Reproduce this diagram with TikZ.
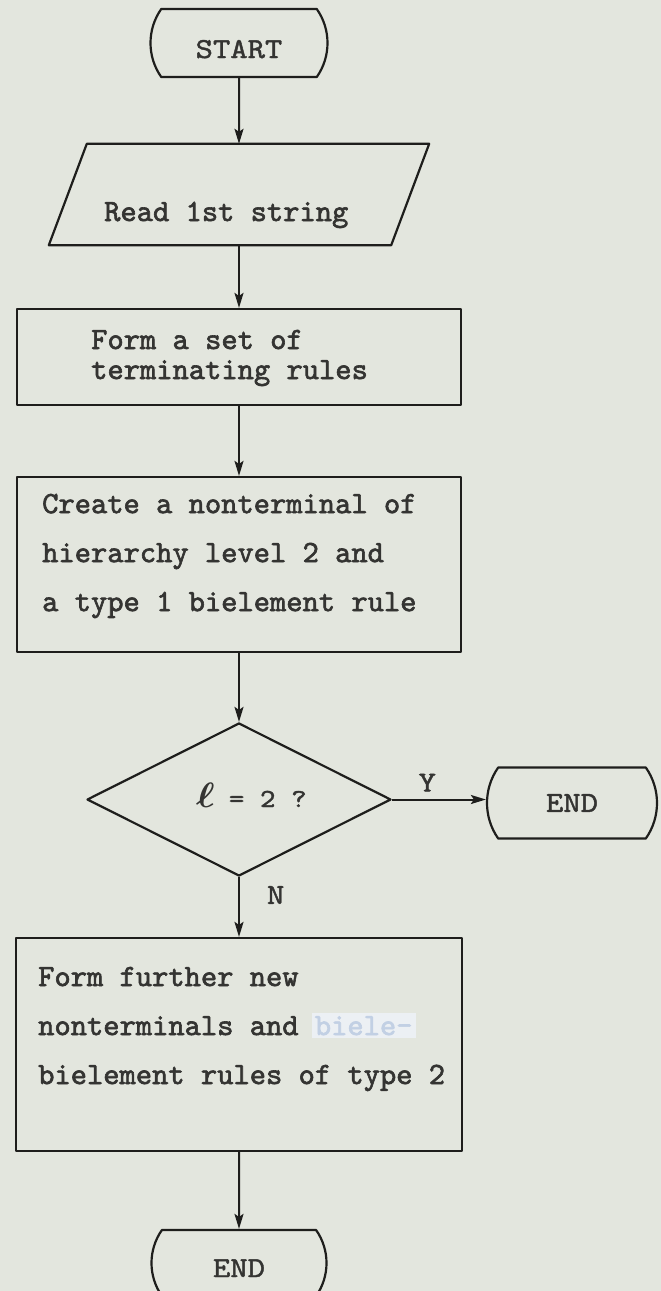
\documentclass[tikz,border=0pt]{standalone}
\usepackage{fontspec}
\usetikzlibrary{shapes.geometric,shapes.misc,arrows.meta}

% typewriter faces: body text and the wider capitals of the labels
\newfontfamily\typefont{lmmono10-regular.otf}[FakeBold=2]
\newfontfamily\capsfont{lmmono10-regular.otf}[FakeStretch=1.14, FakeBold=1.5]

\definecolor{paper}{RGB}{227,230,222}
\definecolor{ink}{RGB}{30,30,28}
\definecolor{typeink}{RGB}{52,52,50}
\definecolor{fluid}{RGB}{236,240,244}
\definecolor{ghost}{RGB}{194,208,228}

\tikzset{
  outline/.style={draw=ink, line width=2.2pt, line join=round},
  term/.style={outline, rounded rectangle, rounded rectangle arc length=70, inner sep=0pt},
  procbox/.style={outline, rectangle, inner sep=0pt},
  frame/.style={rectangle, inner sep=0pt},
  decision/.style={outline, diamond, inner sep=0pt},
  flow/.style={draw=ink, line width=2pt, -{Stealth[length=15pt,width=9pt,inset=3pt]}},
  capstext/.style={text=typeink, inner sep=0pt, font=\capsfont\fontsize{29}{29}\selectfont},
  single/.style={text=typeink, inner sep=0pt, align=left, font=\typefont\fontsize{31}{30}\selectfont},
  spaced/.style={text=typeink, inner sep=0pt, align=left, font=\typefont\fontsize{31}{49}\selectfont},
}

\begin{document}
\begin{tikzpicture}[x=1pt, y=-1pt]
\useasboundingbox (0,0) rectangle (661,1291);
\fill[paper] (0,0) rectangle (661,1291);

% terminal: start
\node[term, capstext, minimum width=177pt, minimum height=68pt,
      text height=30pt, text depth=0pt] (start) at (239,43) {START};

% input: parallelogram drawn round an invisible frame
\node[frame, minimum width=342pt, minimum height=101pt] (read) at (239,194.5) {};
\draw[outline] ([xshift=-19pt]read.south west) -- ([xshift=19pt]read.north west)
  -- ([xshift=19pt]read.north east) -- ([xshift=-19pt]read.south east) -- cycle;
\node[single, anchor=base west] (readtext) at (104,221) {Read 1st string};

% process boxes
\node[procbox, minimum width=444pt, minimum height=96pt] (terms) at (239,357) {};
\node[single, anchor=west] (termstext) at (91,358) {Form a set of\\terminating rules};

\node[procbox, minimum width=444pt, minimum height=175pt] (create) at (239,564.5) {};
\node[spaced, anchor=west] (createtext) at (42,556)
  {Create a nonterminal of\\hierarchy level 2 and\\a type 1 bielement rule};

% decision: a large script ell followed by the typed test
\node[decision, minimum width=304pt, minimum height=153pt] (test) at (239,799.5) {};
\node[inner sep=0pt, text=typeink, anchor=base west] (testtext) at (196,807)
  {\scalebox{1.9}[1.7]{\fontsize{20}{20}\selectfont\boldmath$\ell$}\hspace{14pt}{\capsfont\fontsize{26}{26}\selectfont= 2 ?}};

\node[term, capstext, minimum width=170pt, minimum height=71pt] (endyes) at (572,803) {END};

\node[procbox, minimum width=446pt, minimum height=213pt] (further) at (239,1044.5) {};
\node[spaced, anchor=west] (furthertext) at (38,1029)
  {Form further new\\nonterminals and \hspace{-3pt}{\setlength\fboxsep{3pt}\colorbox{fluid}{\textcolor{ghost}{biele-}}}\\bielement rules of type 2};

% terminal: end
\node[term, capstext, minimum width=175pt, minimum height=66pt,
      text height=28pt, text depth=0pt] (finish) at (239,1263) {END};

% connectors
\draw[flow] (start) -- (read);
\draw[flow] (read) -- (terms);
\draw[flow] (terms) -- (create);
\draw[flow] (create) -- (test);
\draw[flow] (test.east) -- node[capstext, above=7pt, pos=0.375] (yes) {Y} (test.east -| endyes.west);
\draw[flow] (test) -- node[capstext, right=27pt, pos=0.3] (no) {N} (further);
\draw[flow] (further) -- (finish);
\end{tikzpicture}
\end{document}
